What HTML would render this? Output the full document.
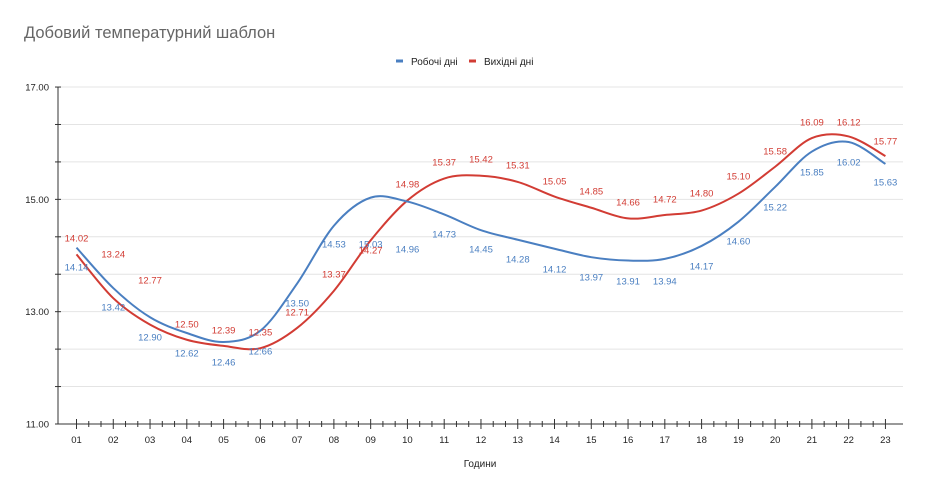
<!DOCTYPE html>
<html><head><meta charset="utf-8"><style>
body{margin:0;background:#fff;width:928px;height:492px;overflow:hidden}
svg{display:block}
text{font-family:"Liberation Sans",Arial,sans-serif}
</style></head><body>
<svg id="s" width="928" height="492" xmlns="http://www.w3.org/2000/svg">
<text x="24" y="38" font-size="16.5" fill="#666">Добовий температурний шаблон</text>
<rect x="396" y="59.5" width="7" height="3" fill="#4a7fc1"/>
<text x="411" y="65" font-size="10" fill="#222">Робочі дні</text>
<rect x="469" y="59.5" width="7" height="3" fill="#d23c34"/>
<text x="484" y="65" font-size="10" fill="#222">Вихідні дні</text>
<text x="480" y="467" font-size="10" fill="#222" text-anchor="middle">Години</text>
<g id="g"></g>
</svg>
<script>
var g=document.getElementById('g'),h='';
var X0=76.5,DX=36.77,Y=function(v){return 424-(v-11)*56.17;};
for(var i=1;i<=9;i++){var y=424-i*37.44;h+='<line x1="58" x2="903" y1="'+y+'" y2="'+y+'" stroke="#e4e4e4"/>';}
h+='<line x1="58" x2="58" y1="87" y2="424" stroke="#333"/>';
h+='<line x1="58" x2="903" y1="424" y2="424" stroke="#333"/>';
for(var i=0;i<=9;i++){var y=424-i*37.44;h+='<line x1="55" x2="61" y1="'+y+'" y2="'+y+'" stroke="#333"/>';}
[[17,'17.00'],[15,'15.00'],[13,'13.00'],[11,'11.00']].forEach(function(a){h+='<text x="49" y="'+(Y(a[0])+3.5)+'" font-size="9.5" text-anchor="end" fill="#222">'+a[1]+'</text>';});
for(var i=0;i<23;i++){var x=X0+i*DX;h+='<line x1="'+x+'" x2="'+x+'" y1="419" y2="429" stroke="#333"/>';
 if(i<22){for(var k=1;k<3;k++){var xm=x+k*DX/3;h+='<line x1="'+xm+'" x2="'+xm+'" y1="421" y2="427" stroke="#333"/>';}}
 h+='<text x="'+x+'" y="443" font-size="9.5" text-anchor="middle" fill="#222">'+(i<9?'0':'')+(i+1)+'</text>';}
var B=[14.14,13.42,12.90,12.62,12.46,12.66,13.50,14.53,15.03,14.96,14.73,14.45,14.28,14.12,13.97,13.91,13.94,14.17,14.60,15.22,15.85,16.02,15.63];
var R=[14.02,13.24,12.77,12.50,12.39,12.35,12.71,13.37,14.27,14.98,15.37,15.42,15.31,15.05,14.85,14.66,14.72,14.80,15.10,15.58,16.09,16.12,15.77];
function path(v){var p=v.map(function(a,i){return [X0+i*DX,Y(a)];});var d='M'+p[0][0]+','+p[0][1];
 for(var i=0;i<p.length-1;i++){var p0=p[Math.max(i-1,0)],p1=p[i],p2=p[i+1],p3=p[Math.min(i+2,p.length-1)];
 d+=' C'+(p1[0]+(p2[0]-p0[0])/6)+','+(p1[1]+(p2[1]-p0[1])/6)+' '+(p2[0]-(p3[0]-p1[0])/6)+','+(p2[1]-(p3[1]-p1[1])/6)+' '+p2[0]+','+p2[1];}
 return d;}
h+='<path d="'+path(R)+'" fill="none" stroke="#d23c34" stroke-width="2"/>';
h+='<path d="'+path(B)+'" fill="none" stroke="#4a7fc1" stroke-width="2"/>';
var BY=[267,307,337,353,362,351,303,244,244,249,234,249,259,269,277,281,281,266,241,207,172,162,182];
var RY=[238,254,280,324,330,332,312,274,250,184,162,159,165,181,191,202,199,193,176,151,122,122,141];
var BL=B.map(function(v){return v.toFixed(2);});BL[5]='12:66';
for(var i=0;i<23;i++){var x=X0+i*DX;
 h+='<text x="'+x+'" y="'+(BY[i]+3.5)+'" font-size="9.5" text-anchor="middle" fill="#4a7fc1">'+BL[i]+'</text>';
 h+='<text x="'+x+'" y="'+(RY[i]+3.5)+'" font-size="9.5" text-anchor="middle" fill="#d23c34">'+R[i].toFixed(2)+'</text>';}
g.innerHTML=h;
</script>
</body></html>
